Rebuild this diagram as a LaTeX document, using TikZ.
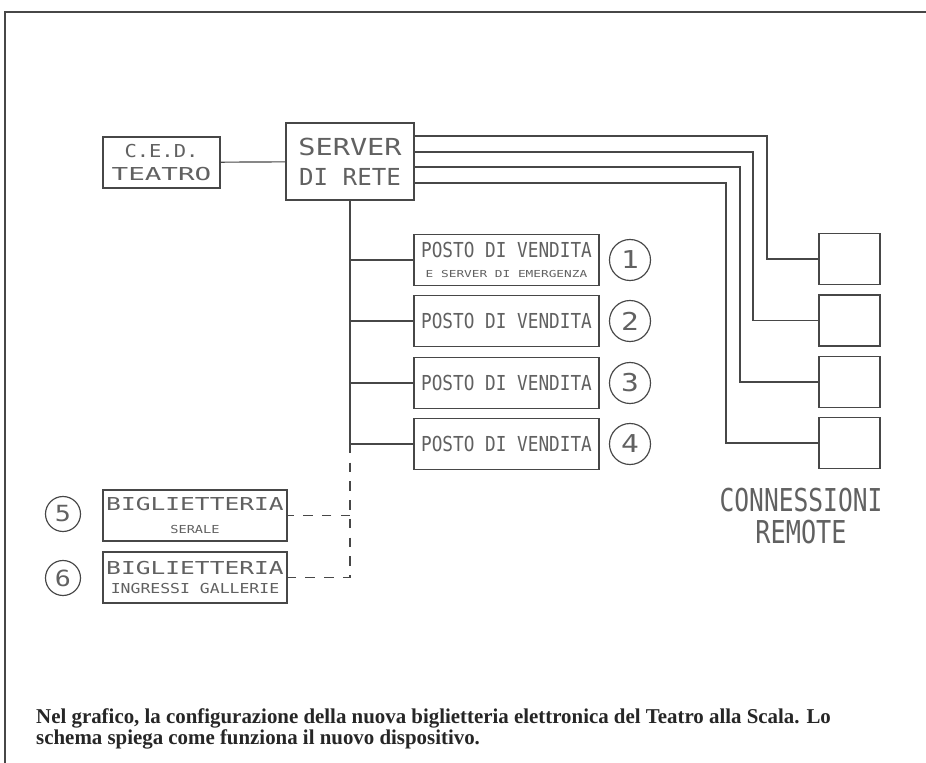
\documentclass[tikz,border=0pt]{standalone}
\usepackage{fontspec}
\usepackage{graphicx}
\usetikzlibrary{positioning}
\setmainfont{Liberation Serif}
\newfontfamily\stencil{DejaVu Sans Mono}
\definecolor{Ink}{HTML}{474747}
\definecolor{Pencil}{HTML}{616161}
\definecolor{Caption}{HTML}{262626}
\newcommand{\wide}[2]{\scalebox{#1}[1]{#2}}
\newcommand{\lsize}[2]{\stencil\fontsize{#1}{#2}\selectfont}
\tikzset{
  unit/.style={draw=Ink,line width=1pt,fill=white,text=Pencil,align=center,inner sep=0pt},
  cedbox/.style={unit,minimum width=3.51cm,minimum height=1.53cm,font=\lsize{15.2}{19.6}},
  serverbox/.style={unit,line width=1.8pt,minimum width=3.84cm,minimum height=2.31cm,font=\lsize{20}{25.6}},
  salebox/.style={unit,minimum width=5.55cm,minimum height=1.53cm,font=\lsize{17.6}{21}},
  nightbox/.style={unit,minimum width=5.52cm,minimum height=1.53cm,font=\lsize{15.2}{19.6}},
  remotebox/.style={unit,minimum width=1.83cm,minimum height=1.53cm},
  tag/.style={circle,draw=Ink,line width=1pt,text=Pencil,inner sep=0pt,minimum size=1.23cm,font=\lsize{21}{24}},
  smalltag/.style={tag,minimum size=1.05cm,font=\lsize{19}{22}},
  wire/.style={draw=Ink,line width=1pt},
  dashwire/.style={wire,dash pattern=on 8pt off 8pt},
  frame/.style={draw=Ink,line width=2pt},
  note/.style={text=Caption,align=left,inner sep=0pt,font=\bfseries\fontsize{18}{18.5}\selectfont}
}
\begin{document}
\begin{tikzpicture}[x=0.03cm,y=-0.03cm]
  \useasboundingbox[fill=white] (0,0) rectangle (926,763);
  \draw[frame] (5,763) |- (926,12);
  \node[cedbox] (ced) at (161.5,162.5) {\wide{1.15}{C.E.D.}\\\wide{1.55}{TEATRO}};
  \node[serverbox] (server) at (350,161.5) {\wide{1.22}{SERVER}\\\wide{1.03}{DI RETE}};
  \node[salebox] (posto1) at (506.5,260) {\wide{0.86}{POSTO DI VENDITA}\\[-4pt]{\lsize{8.2}{10}\wide{1.33}{E SERVER DI EMERGENZA}}};
  \node[salebox] (posto2) at (506.5,321) {\wide{0.86}{POSTO DI VENDITA}};
  \node[salebox] (posto3) at (506.5,383) {\wide{0.86}{POSTO DI VENDITA}};
  \node[salebox] (posto4) at (506.5,444) {\wide{0.86}{POSTO DI VENDITA}};
  \node[tag] (num1) at (630,260) {\wide{1.2}{1}};
  \node[tag] (num2) at (630,321) {\wide{1.2}{2}};
  \node[tag] (num3) at (630,383) {\wide{1.2}{3}};
  \node[tag] (num4) at (630,444) {\wide{1.2}{4}};
  \node[nightbox] (bigl5) at (195,515.5) {\wide{1.38}{BIGLIETTERIA}\\{\lsize{9.4}{12}\wide{1.24}{SERALE}}};
  \node[nightbox] (bigl6) at (195,577.5) {\wide{1.38}{BIGLIETTERIA}\\[-3pt]{\lsize{11.7}{13}\wide{1.2}{INGRESSI GALLERIE}}};
  \node[smalltag] (num5) at (63,514) {\wide{1.2}{5}};
  \node[smalltag] (num6) at (63,578) {\wide{1.2}{6}};
  \node[remotebox] (rem1) at (849.5,259) {};
  \node[remotebox] (rem2) at (849.5,320.5) {};
  \node[remotebox] (rem3) at (849.5,382) {};
  \node[remotebox] (rem4) at (849.5,443) {};
  \node[text=Pencil,align=center,font=\lsize{26.9}{27.5}] (remlabel) at (801,516) {\wide{0.78}{CONNESSIONI}\\\wide{0.8}{REMOTE}};
  \coordinate (tap1) at (414,136);
  \coordinate (tap2) at (414,152);
  \coordinate (tap3) at (414,167);
  \coordinate (tap4) at (414,183);
  \coordinate (bend1) at (767,259);
  \coordinate (bend2) at (753,320.5);
  \coordinate (bend3) at (740,382);
  \coordinate (bend4) at (726,443);
  \draw[wire] (ced) -- (server);
  \draw[wire] (tap1) -| (bend1) -- (rem1.west);
  \draw[wire] (tap2) -| (bend2) -- (rem2.west);
  \draw[wire] (tap3) -| (bend3) -- (rem3.west);
  \draw[wire] (tap4) -| (bend4) -- (rem4.west);
  \draw[wire] (server.south) |- (posto4.west);
  \draw[wire] (server.south |- posto1.west) -- (posto1.west);
  \draw[wire] (server.south |- posto2.west) -- (posto2.west);
  \draw[wire] (server.south |- posto3.west) -- (posto3.west);
  \draw[dashwire] (server.south |- posto4.west) |- (bigl6.east);
  \draw[dashwire] (server.south |- bigl5.east) -- (bigl5.east);
  \node[note,anchor=west] (caption) at (36,729) {\wide{0.99}{Nel grafico, la configurazione della nuova biglietteria elettronica del Teatro alla Scala. Lo}\\\wide{0.99}{schema spiega come funziona il nuovo dispositivo.}};
\end{tikzpicture}
\end{document}
